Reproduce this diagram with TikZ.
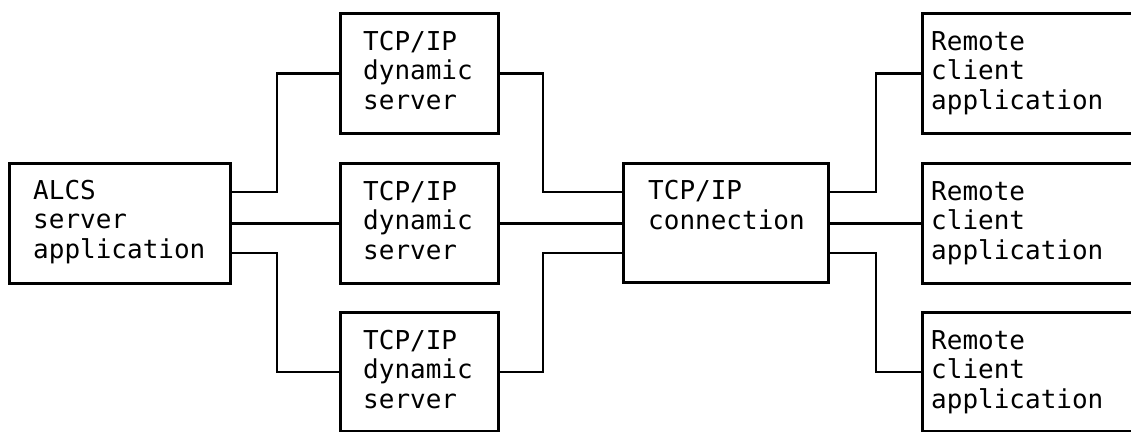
\documentclass[tikz,border=0pt]{standalone}
\usepackage{fontspec}
\setmonofont{DejaVu Sans Mono}
\begin{document}
\begin{tikzpicture}[x=1pt,y=-1pt,
  box/.style={draw,line width=2.8pt,rectangle,inner sep=0pt,anchor=north west},
  label/.style={anchor=base west,inner sep=0pt,align=left,
    font=\ttfamily\fontsize{26}{29.5}\selectfont},
  wire/.style={line width=2.8pt}]
\useasboundingbox (0,0) rectangle (1131,431);
% boxes (corners in pixel units, y downwards)
\node[box,minimum width=221pt,minimum height=120pt] (alcs) at (8,162) {};
\node[box,minimum width=158pt,minimum height=120pt] (dyn1) at (339,12) {};
\node[box,minimum width=158pt,minimum height=120pt] (dyn2) at (339,162) {};
\node[box,minimum width=158pt,minimum height=119pt] (dyn3) at (339,311) {};
\node[box,minimum width=205pt,minimum height=119pt] (conn) at (622,162) {};
\node[box,minimum width=230pt,minimum height=120pt] (rem1) at (921,12) {};
\node[box,minimum width=230pt,minimum height=120pt] (rem2) at (921,162) {};
\node[box,minimum width=230pt,minimum height=119pt] (rem3) at (921,311) {};
% texts (anchored at the baseline of the last line)
\node[label] (talcs) at (33,258) {ALCS\\server\\application};
\node[label] (tdyn1) at (363,109) {TCP/IP\\dynamic\\server};
\node[label] (tdyn2) at (363,259) {TCP/IP\\dynamic\\server};
\node[label] (tdyn3) at (363,408) {TCP/IP\\dynamic\\server};
\node[label] (tconn) at (648,229) {TCP/IP\\connection};
\node[label] (trem1) at (931,109) {Remote\\client\\application};
\node[label] (trem2) at (931,259) {Remote\\client\\application};
\node[label] (trem3) at (931,408) {Remote\\client\\application};
% connectors
\draw[wire] (alcs.east |- 0,192) -| (277,132) |- (dyn1.west);
\draw[wire] (alcs.east |- dyn2.west) -- (dyn2.west);
\draw[wire] (alcs.east |- 0,253) -| (277,300) |- (dyn3.west);
\draw[wire] (dyn1.east) -| (543,150) |- (conn.west |- 0,192);
\draw[wire] (dyn2.east) -- (conn.west |- dyn2.east);
\draw[wire] (dyn3.east) -| (543,300) |- (conn.west |- 0,253);
\draw[wire] (conn.east |- 0,192) -| (876,150) |- (rem1.west);
\draw[wire] (conn.east |- rem2.west) -- (rem2.west);
\draw[wire] (conn.east |- 0,253) -| (876,300) |- (rem3.west);
\end{tikzpicture}
\end{document}
